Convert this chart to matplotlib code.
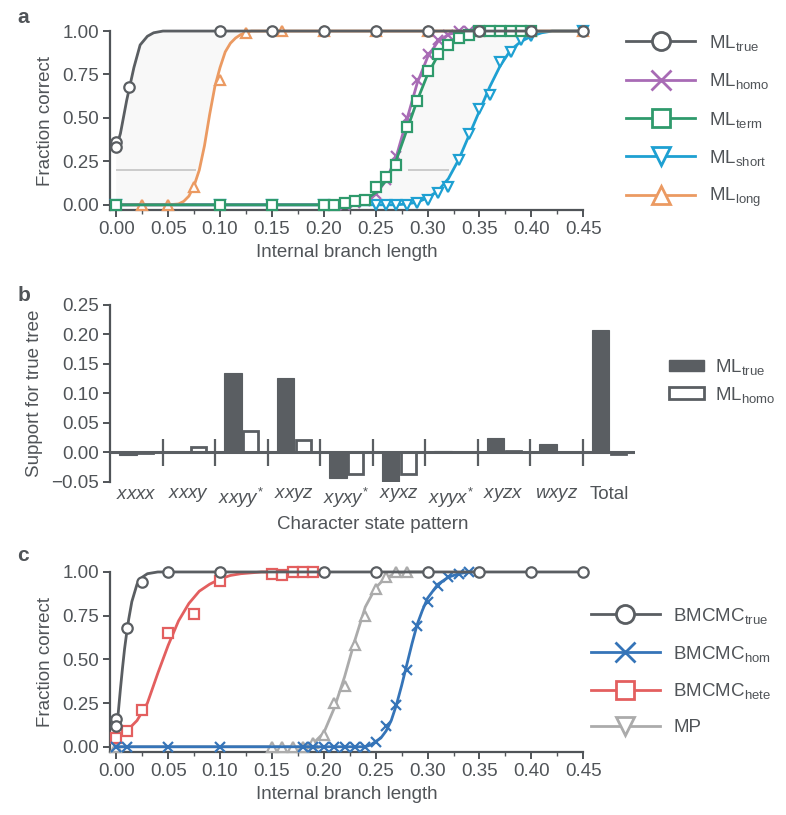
import numpy as np
import matplotlib
matplotlib.use("Agg")
import matplotlib.pyplot as plt
from matplotlib.lines import Line2D
from matplotlib.patches import Patch

plt.rcParams['font.family'] = ['Liberation Sans', 'DejaVu Sans']
plt.rcParams['mathtext.fontset'] = 'custom'
plt.rcParams['mathtext.rm'] = 'Liberation Sans'
plt.rcParams['mathtext.it'] = 'Liberation Sans:italic'

INK = '#505458'
plt.rcParams['text.color'] = INK
plt.rcParams['axes.labelcolor'] = INK
plt.rcParams['xtick.color'] = INK
plt.rcParams['ytick.color'] = INK

# ---------------- panel a: ML under different models ----------------
true_x = [0, 0, 0.0125, 0.10, 0.15, 0.20, 0.25, 0.30, 0.35, 0.40, 0.45]
true_y = [0.36, 0.33, 0.68, 1, 1, 1, 1, 1, 1, 1, 1]
true_fit_x = [0, 0.004, 0.01, 0.017, 0.023, 0.03, 0.036, 0.045, 0.06, 0.45]
true_fit_y = [0.33, 0.41, 0.60, 0.79, 0.92, 0.97, 0.99, 1.0, 1.0, 1.0]

long_x = [0.025, 0.05, 0.075, 0.10, 0.125, 0.16, 0.20, 0.25, 0.30, 0.35, 0.40, 0.45]
long_y = [0, 0, 0.10, 0.72, 0.99, 1, 1, 1, 1, 1, 1, 1]
long_fit_x = [0, 0.05, 0.06, 0.065, 0.07, 0.075, 0.08, 0.085, 0.09, 0.095, 0.10,
              0.105, 0.11, 0.115, 0.12, 0.13, 0.45]
long_fit_y = [0, 0, 0.005, 0.02, 0.05, 0.11, 0.20, 0.34, 0.52, 0.68, 0.79,
              0.88, 0.93, 0.96, 0.98, 1.0, 1.0]

homo_x = [0, 0.10, 0.15, 0.20, 0.21, 0.22, 0.23, 0.24, 0.25, 0.26, 0.27, 0.28,
          0.29, 0.30, 0.31, 0.32, 0.33, 0.34, 0.35, 0.36, 0.37, 0.38, 0.39, 0.40]
homo_y = [0, 0, 0, 0, 0, 0, 0.01, 0.02, 0.06, 0.14, 0.28, 0.50,
          0.72, 0.87, 0.95, 0.98, 1, 1, 1, 1, 1, 1, 1, 1]
homo_fit_x = [0, 0.22, 0.23, 0.24, 0.25, 0.26, 0.27, 0.28, 0.29, 0.30, 0.31,
              0.32, 0.33, 0.34, 0.40]
homo_fit_y = [0, 0, 0.01, 0.025, 0.06, 0.14, 0.28, 0.49, 0.70, 0.85, 0.94,
              0.98, 0.995, 1.0, 1.0]

term_x = [0, 0.10, 0.15, 0.20, 0.21, 0.22, 0.23, 0.24, 0.25, 0.26, 0.27, 0.28,
          0.29, 0.30, 0.31, 0.32, 0.33, 0.34, 0.35, 0.36, 0.37, 0.38, 0.39, 0.40]
term_y = [0, 0, 0, 0, 0, 0.01, 0.02, 0.03, 0.10, 0.16, 0.23, 0.45,
          0.60, 0.77, 0.87, 0.92, 0.96, 0.98, 1, 1, 1, 1, 1, 1]
term_fit_x = [0, 0.22, 0.23, 0.24, 0.25, 0.26, 0.27, 0.28, 0.29, 0.30, 0.31,
              0.32, 0.33, 0.34, 0.35, 0.40]
term_fit_y = [0, 0, 0.01, 0.03, 0.07, 0.14, 0.26, 0.43, 0.60, 0.75, 0.86,
              0.93, 0.97, 0.99, 1.0, 1.0]

short_x = [0, 0.10, 0.15, 0.20, 0.25, 0.26, 0.27, 0.28, 0.29, 0.30, 0.31, 0.32,
           0.33, 0.34, 0.35, 0.36, 0.37, 0.38, 0.39, 0.40, 0.45]
short_y = [0, 0, 0, 0, 0, 0, 0, 0, 0.01, 0.03, 0.07, 0.10,
           0.26, 0.41, 0.55, 0.63, 0.82, 0.88, 0.95, 0.97, 1.0]
short_fit_x = [0, 0.27, 0.28, 0.29, 0.30, 0.31, 0.32, 0.33, 0.34, 0.35, 0.36,
               0.37, 0.38, 0.39, 0.40, 0.41, 0.42, 0.45]
short_fit_y = [0, 0, 0.005, 0.015, 0.04, 0.08, 0.15, 0.26, 0.40, 0.54, 0.68,
               0.80, 0.89, 0.94, 0.97, 0.99, 1.0, 1.0]

# 20% line spanning the gaps between curves
gap_level = 0.2
gap_start = [0.0, 0.281]
gap_end = [0.077, 0.321]

# ---------------- panel b: support per site pattern ----------------
patterns = ['$xxxx$', '$xxxy$', '$xxyy^{*}$', '$xxyz$', '$xyxy^{*}$',
            '$xyxz$', '$xyyx^{*}$', '$xyzx$', '$wxyz$', 'Total']
support_true = [-0.004, 0.001, 0.134, 0.126, -0.044, -0.051, 0.003, 0.024, 0.015, 0.208]
support_homo = [-0.001, 0.009, 0.037, 0.022, -0.037, -0.036, 0.001, 0.002, 0.0, -0.003]

# ---------------- panel c: Bayesian MCMC and parsimony ----------------
bt_x = [0, 0, 0.01, 0.025, 0.05, 0.10, 0.20, 0.25, 0.30, 0.35, 0.40, 0.45]
bt_y = [0.16, 0.12, 0.68, 0.94, 1, 1, 1, 1, 1, 1, 1, 1]
bt_fit_x = [0, 0.002, 0.004, 0.006, 0.008, 0.01, 0.012, 0.015, 0.02, 0.025,
            0.03, 0.04, 0.45]
bt_fit_y = [0.10, 0.20, 0.33, 0.45, 0.56, 0.65, 0.73, 0.83, 0.93, 0.97,
            0.99, 1.0, 1.0]

bhom_x = [0, 0.01, 0.05, 0.10, 0.18, 0.19, 0.20, 0.21, 0.22, 0.23, 0.24, 0.25,
          0.26, 0.27, 0.28, 0.29, 0.30, 0.31, 0.32, 0.33, 0.34]
bhom_y = [0, 0, 0, 0, 0, 0, 0, 0, 0, 0, 0, 0.03,
          0.12, 0.24, 0.44, 0.69, 0.83, 0.92, 0.97, 0.99, 1.0]
bhom_fit_x = [0, 0.24, 0.245, 0.25, 0.255, 0.26, 0.265, 0.27, 0.275, 0.28,
              0.285, 0.29, 0.295, 0.30, 0.31, 0.32, 0.33, 0.34, 0.35]
bhom_fit_y = [0, 0, 0.01, 0.03, 0.05, 0.09, 0.15, 0.24, 0.35, 0.47,
              0.59, 0.70, 0.78, 0.85, 0.93, 0.97, 0.99, 1.0, 1.0]

bhete_x = [0, 0.01, 0.025, 0.05, 0.075, 0.10, 0.15, 0.16, 0.17, 0.18, 0.19]
bhete_y = [0.05, 0.09, 0.21, 0.65, 0.76, 0.95, 0.99, 0.98, 1.0, 1.0, 1.0]
bhete_fit_x = [0, 0.01, 0.02, 0.03, 0.04, 0.05, 0.06, 0.07, 0.08, 0.09, 0.10,
               0.11, 0.12, 0.14, 0.19]
bhete_fit_y = [0.05, 0.09, 0.15, 0.25, 0.42, 0.58, 0.72, 0.82, 0.89, 0.93, 0.96,
               0.98, 0.99, 1.0, 1.0]

mp_x = [0, 0.15, 0.16, 0.17, 0.18, 0.19, 0.20, 0.21, 0.22, 0.23, 0.24, 0.25,
        0.26, 0.27, 0.28]
mp_y = [0, 0, 0, 0, 0, 0.02, 0.07, 0.25, 0.35, 0.58, 0.75, 0.90,
        0.97, 1.0, 1.0]
mp_fit_x = [0, 0.18, 0.19, 0.20, 0.21, 0.22, 0.23, 0.24, 0.25, 0.26, 0.27, 0.28, 0.30]
mp_fit_y = [0, 0, 0.02, 0.08, 0.22, 0.40, 0.61, 0.80, 0.91, 0.97, 0.99, 1.0, 1.0]

GRAY = '#5a5e62'
PURPLE = '#a86bb5'
GREEN = '#2f9a6c'
CYAN = '#1ea0d2'
ORANGE = '#eb9a62'
BLUE = '#3574b8'
RED = '#e35f5f'
LIGHT = '#ababab'

FS = 13.5
LW = 2.0


def curve_axes(ax):
    ax.set_xlim(-0.006, 0.45)
    ax.set_ylim(-0.03, 1.0)
    ax.set_xticks(np.arange(0, 0.451, 0.05))
    ax.set_xticks(np.arange(0, 0.451, 0.025), minor=True)
    ax.set_yticks([0, 0.25, 0.5, 0.75, 1.0])
    ax.xaxis.set_major_formatter(matplotlib.ticker.FormatStrFormatter('%.2f'))
    ax.yaxis.set_major_formatter(matplotlib.ticker.FormatStrFormatter('%.2f'))
    for s in ['top', 'right']:
        ax.spines[s].set_visible(False)
    for s in ['left', 'bottom']:
        ax.spines[s].set_linewidth(1.6)
        ax.spines[s].set_color(INK)
    ax.tick_params(which='major', length=5, width=1.4, labelsize=FS, pad=3)
    ax.tick_params(which='minor', length=3, width=1.0)
    ax.set_xlabel('Internal branch length', fontsize=FS, labelpad=4)
    ax.set_ylabel('Fraction correct', fontsize=FS, labelpad=6)


def series(ax, fx, fy, mx, my, color, marker, ms=7.5, z=3):
    ax.plot(fx, fy, color=color, lw=LW, zorder=z, clip_on=False)
    ax.plot(mx, my, ls='none', marker=marker, ms=ms, mfc='white', mec=color,
            mew=1.6, zorder=z + 0.5, clip_on=False)


def handle(color, marker, ms=13):
    return Line2D([], [], color=color, lw=LW, marker=marker, ms=ms,
                  mfc='white', mec=color, mew=2.0)


fig = plt.figure(figsize=(7.86, 8.15), dpi=100)

# ---- a ----
ax = fig.add_axes([0.140, 0.7423, 0.602, 0.2196])
curve_axes(ax)
ax.fill(np.concatenate([true_fit_x, long_fit_x[::-1]]),
        np.concatenate([true_fit_y, long_fit_y[::-1]]), color='#f8f8f8', lw=0, zorder=0)
ax.fill(np.concatenate([term_fit_x, short_fit_x[::-1]]),
        np.concatenate([term_fit_y, short_fit_y[::-1]]), color='#f8f8f8', lw=0, zorder=0)
ax.hlines([gap_level] * len(gap_start), gap_start, gap_end, color='#c4c4c4', lw=1.2, zorder=1)
series(ax, short_fit_x, short_fit_y, short_x, short_y, CYAN, 'v', z=3)
series(ax, long_fit_x, long_fit_y, long_x, long_y, ORANGE, '^', z=4)
series(ax, homo_fit_x, homo_fit_y, homo_x, homo_y, PURPLE, 'x', z=5)
series(ax, term_fit_x, term_fit_y, term_x, term_y, GREEN, 's', z=6)
series(ax, true_fit_x, true_fit_y, true_x, true_y, GRAY, 'o', z=7)
leg_a = [handle(GRAY, 'o'), handle(PURPLE, 'x', 15), handle(GREEN, 's'),
         handle(CYAN, 'v'), handle(ORANGE, '^')]
ax.legend(leg_a, [r'ML$_{\mathrm{true}}$', r'ML$_{\mathrm{homo}}$', r'ML$_{\mathrm{term}}$',
                  r'ML$_{\mathrm{short}}$', r'ML$_{\mathrm{long}}$'],
          loc='upper left', bbox_to_anchor=(0.787, 0.969), bbox_transform=fig.transFigure,
          frameon=False, fontsize=FS, handlelength=3.7, handletextpad=0.7,
          labelspacing=0.98, borderaxespad=0)

# ---- b ----
bx = fig.add_axes([0.140, 0.4086, 0.668, 0.2172])
pos = np.arange(len(patterns))
bx.bar(pos - 0.16, support_true, width=0.33, color=GRAY, edgecolor=GRAY, lw=0.8, zorder=3)
bx.bar(pos + 0.18, support_homo, width=0.28, color='white', edgecolor=GRAY, lw=2.0, zorder=3)
bx.axhline(0, color=GRAY, lw=2.2, zorder=4)
bx.vlines(pos[:-1] + 0.5, -0.023, 0.023, color=GRAY, lw=1.6, zorder=4)
bx.set_xlim(-0.5, len(patterns) - 0.5)
bx.set_ylim(-0.05, 0.25)
bx.set_yticks(np.arange(-0.05, 0.251, 0.05))
bx.yaxis.set_major_formatter(matplotlib.ticker.FuncFormatter(
    lambda v, p: ('%.2f' % v).replace('-', '\u2212')))
bx.set_xticks(pos)
bx.set_xticklabels(patterns)
for s in ['top', 'right', 'bottom']:
    bx.spines[s].set_visible(False)
bx.spines['left'].set_linewidth(1.6)
bx.spines['left'].set_color(INK)
bx.tick_params(axis='y', length=5, width=1.4, labelsize=FS, pad=3)
bx.tick_params(axis='x', length=0, labelsize=FS, pad=3)
bx.set_xlabel('Character state pattern', fontsize=FS, labelpad=4)
bx.set_ylabel('Support for true tree', fontsize=FS, labelpad=6)
bx.legend([Patch(facecolor=GRAY, edgecolor=GRAY),
           Patch(facecolor='white', edgecolor=GRAY, lw=2.0)],
          [r'ML$_{\mathrm{true}}$', r'ML$_{\mathrm{homo}}$'],
          loc='upper left', bbox_to_anchor=(0.842, 0.571), bbox_transform=fig.transFigure,
          frameon=False, fontsize=FS, handlelength=1.85, handleheight=0.6,
          handletextpad=0.6, labelspacing=0.42, borderaxespad=0)

# ---- c ----
cx = fig.add_axes([0.140, 0.0773, 0.602, 0.2209])
curve_axes(cx)
series(cx, mp_fit_x, mp_fit_y, mp_x, mp_y, LIGHT, '^', z=3)
series(cx, bhete_fit_x, bhete_fit_y, bhete_x, bhete_y, RED, 's', z=4)
series(cx, bhom_fit_x, bhom_fit_y, bhom_x, bhom_y, BLUE, 'x', z=5)
series(cx, bt_fit_x, bt_fit_y, bt_x, bt_y, GRAY, 'o', z=6)
leg_c = [handle(GRAY, 'o'), handle(BLUE, 'x', 15), handle(RED, 's'), handle(LIGHT, 'v')]
cx.legend(leg_c, [r'BMCMC$_{\mathrm{true}}$', r'BMCMC$_{\mathrm{hom}}$',
                  r'BMCMC$_{\mathrm{hete}}$', 'MP'],
          loc='upper left', bbox_to_anchor=(0.742, 0.266), bbox_transform=fig.transFigure,
          frameon=False, fontsize=FS, handlelength=3.7, handletextpad=0.7,
          labelspacing=0.95, borderaxespad=0)

for lab, y in [('a', 0.978), ('b', 0.637), ('c', 0.318)]:
    fig.text(0.022, y, lab, fontsize=15, fontweight='bold', color=INK, va='center')

fig.savefig('out.png', dpi=100)
